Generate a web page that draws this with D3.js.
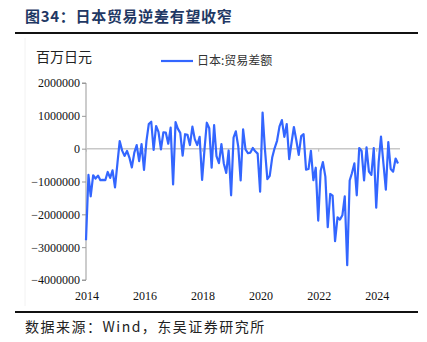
<!DOCTYPE html>
<html><head><meta charset="utf-8">
<script src="https://cdn.jsdelivr.net/npm/d3@7"></script>
<style>body{margin:0;background:#fff}svg{display:block}</style>
</head><body>
<script>
const title = "图34：日本贸易逆差有望收窄";
const unitLabel = "百万日元";
const seriesName = "日本:贸易差额";
const source = "数据来源：Wind，东吴证券研究所";
const startMonth = "2014-01";
const yTicks = [2000000, 1000000, 0, -1000000, -2000000, -3000000, -4000000];
const xTickYears = [2014, 2016, 2018, 2020, 2022, 2024];
// monthly trade balance, millions of yen (thousands shown ×1000)
const values = [
 -2790,-800,-1450,-810,-910,-820,-960,-950,-960,-710,-890,-660,
 -1180,-430,230,-60,-220,-70,-270,-570,-120,110,-380,140,
 -650,240,750,820,-40,690,510,-20,500,490,150,640,
 -1090,810,610,480,-210,440,420,110,670,290,110,360,
 -950,0,790,620,-580,720,-230,-440,140,-450,-740,-55,
 -1420,340,530,60,-970,590,-20,-140,-120,20,-80,-150,
 -1310,1100,3,-930,-830,-270,10,240,680,870,360,750,
 -320,210,660,250,-190,380,440,-640,-620,-70,-960,-580,
 -2190,-670,-410,-850,-2390,-1380,-1430,-2820,-2090,-2160,-2030,-1450,
 -3550,-970,-750,-450,-1420,20,-70,-970,40,-700,-800,20,
 -1800,-400,370,-460,-1250,200,-620,-700,-300,-450
].map(v => v * 1000);

const W = 427, H = 342;
const svg = d3.select("body").append("svg").attr("width", W).attr("height", H);
const serif = "'Liberation Serif','Times New Roman',serif";
const cjk = "'Noto Sans CJK SC',sans-serif";

const parse = d3.timeParse("%Y-%m");
const t0 = parse(startMonth);
const data = values.map((v, i) => ({date: d3.timeMonth.offset(t0, i), v}));

const x = d3.scaleTime().domain([t0, data[data.length-1].date]).range([86, 398]);
const y = d3.scaleLinear().domain([-4000000, 2000000]).range([280, 83]);

// title
svg.append("text").attr("x", 25).attr("y", 22).attr("font-family", cjk)
  .attr("font-weight", "bold").attr("font-size", 15).attr("letter-spacing", 0.7)
  .attr("fill", "#1f3864").text(title);
svg.append("line").attr("x1", 15).attr("x2", 418).attr("y1", 33).attr("y2", 33)
  .attr("stroke", "#111").attr("stroke-width", 2);
svg.append("line").attr("x1", 25).attr("x2", 25).attr("y1", 38).attr("y2", 306)
  .attr("stroke", "#f2f2f2").attr("stroke-width", 1);

// unit label
svg.append("text").attr("x", 36).attr("y", 62).attr("font-family", cjk)
  .attr("font-size", 14).attr("fill", "#222").text(unitLabel);

// legend
svg.append("line").attr("x1", 161).attr("x2", 193).attr("y1", 61).attr("y2", 61)
  .attr("stroke", "#3366ff").attr("stroke-width", 2.2);
svg.append("text").attr("x", 197).attr("y", 65).attr("font-family", cjk)
  .attr("font-size", 12).attr("fill", "#333").text(seriesName);

// y axis
const yAxis = svg.append("g").attr("transform", "translate(86,0)")
  .call(d3.axisLeft(y).tickValues(yTicks).tickSize(4).tickFormat(d3.format("d")));
yAxis.select(".domain").attr("stroke", "#999").attr("d", `M-4,${y(2000000)}H0V${y(-4000000)}H-4`);
yAxis.selectAll(".tick line").attr("stroke", "#999");
yAxis.selectAll(".tick text").attr("font-family", serif).attr("font-size", 12)
  .attr("fill", "#111").attr("x", -6);

// zero line with year ticks
svg.append("line").attr("x1", 86).attr("x2", 400).attr("y1", y(0)).attr("y2", y(0))
  .attr("stroke", "#c8c8c8").attr("stroke-width", 1.5);
const xAxis = svg.append("g").attr("transform", `translate(0,${y(0)})`)
  .call(d3.axisBottom(x).tickValues(xTickYears.map(yr => new Date(yr, 0, 1))).tickSize(3).tickFormat(""));
xAxis.select(".domain").remove();
xAxis.selectAll(".tick line").attr("stroke", "#bbb");

// x labels
svg.append("g").selectAll("text").data(xTickYears).join("text")
  .attr("x", d => x(new Date(d, 0, 1)) + 1).attr("y", 300).attr("text-anchor", "middle")
  .attr("font-family", serif).attr("font-size", 12).attr("fill", "#111").text(d => d);

// line
svg.append("path").datum(data).attr("fill", "none").attr("stroke", "#3366ff")
  .attr("stroke-width", 2.2).attr("stroke-linejoin", "round")
  .attr("d", d3.line().x(d => x(d.date)).y(d => y(d.v)));

// bottom rule & source
svg.append("line").attr("x1", 15).attr("x2", 418).attr("y1", 312).attr("y2", 312)
  .attr("stroke", "#111").attr("stroke-width", 2);
svg.append("text").attr("x", 25).attr("y", 332).attr("font-family", cjk)
  .attr("font-size", 14).attr("letter-spacing", 1.5).attr("fill", "#222").text(source);
</script>
</body></html>
